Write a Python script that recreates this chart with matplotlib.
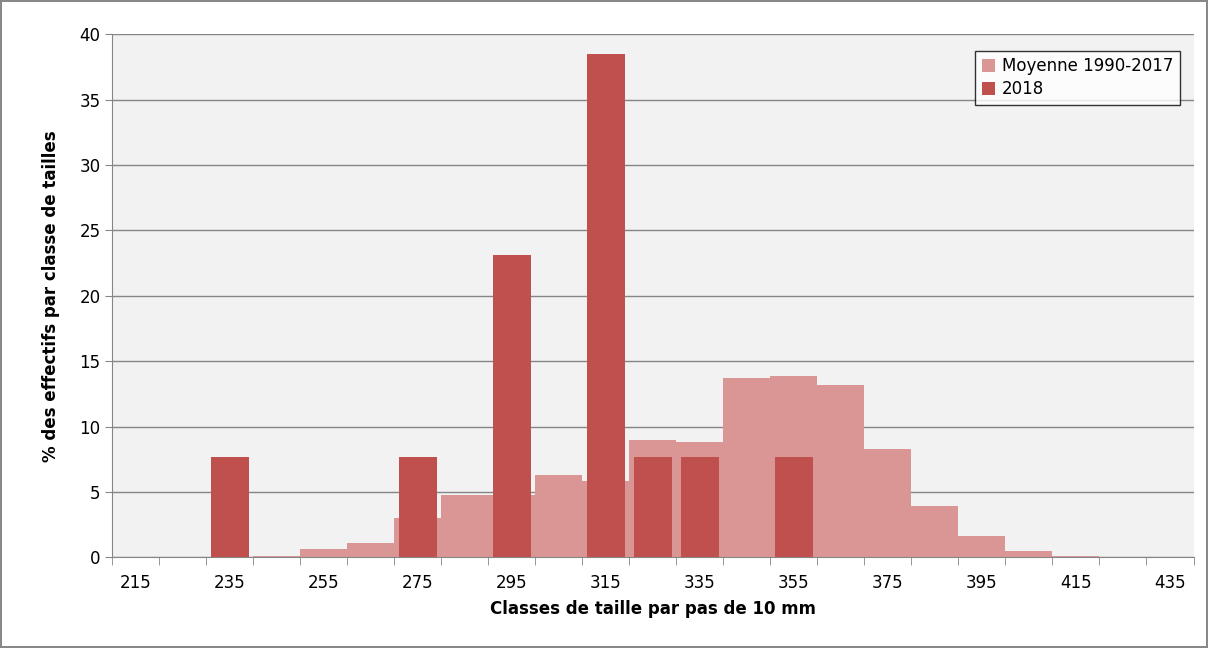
import numpy as np
import matplotlib.pyplot as plt

classes = list(range(215, 436, 10))
moyenne = [0, 0, 0, 0.1, 0.6, 1.1, 3.0, 4.8, 4.8, 6.3, 5.8, 9.0, 8.8, 13.7, 13.9, 13.2,
           8.3, 3.9, 1.6, 0.5, 0.1, 0, 0]
an2018 = [0, 0, 7.7, 0, 0, 0, 7.7, 0, 23.1, 0, 38.5, 7.7, 7.7, 0, 7.7, 0,
          0, 0, 0, 0, 0, 0, 0]

fig = plt.figure(figsize=(12.08, 6.48), dpi=100)
fig.patch.set_edgecolor('#888888')
fig.patch.set_linewidth(1.5)
ax = fig.add_axes([0.093, 0.14, 0.895, 0.807])
ax.set_facecolor('#f2f2f2')

x = np.arange(len(classes))
ax.bar(x, moyenne, width=1.0, color='#d99694', label='Moyenne 1990-2017', zorder=2)
ax.bar(x, an2018, width=0.8, color='#c0504d', label='2018', zorder=3)

ax.set_xlim(-0.5, len(classes) - 0.5)
ax.set_ylim(0, 40)
ax.set_yticks(range(0, 41, 5))
ax.set_xticks(x)
ax.set_xticklabels([str(c) if i % 2 == 0 else '' for i, c in enumerate(classes)])
ax.set_xticks(np.arange(-0.5, len(classes), 1.0), minor=True)
ax.tick_params(axis='x', which='major', length=0, labelsize=12, pad=12)
ax.tick_params(axis='x', which='minor', length=6, color='#868686')
ax.tick_params(axis='y', labelsize=12, length=5, color='#868686')
ax.yaxis.grid(True, color='#868686', linewidth=1, zorder=0)
ax.set_axisbelow(True)
for s in ['top', 'right']:
    ax.spines[s].set_visible(False)
ax.spines['left'].set_color('#868686')
ax.spines['bottom'].set_color('#868686')

ax.set_xlabel('Classes de taille par pas de 10 mm', fontsize=12, fontweight='bold', labelpad=6)
ax.set_ylabel('% des effectifs par classe de tailles', fontsize=12, fontweight='bold', labelpad=14)

leg = ax.legend(loc='upper right', bbox_to_anchor=(0.995, 0.985), fontsize=12,
                fancybox=False, edgecolor='black', handlelength=0.8, handleheight=0.8,
                borderpad=0.4, labelspacing=0.3, handletextpad=0.4)
leg.get_frame().set_facecolor('white')

fig.savefig('out.png', dpi=100, edgecolor=fig.get_edgecolor())
